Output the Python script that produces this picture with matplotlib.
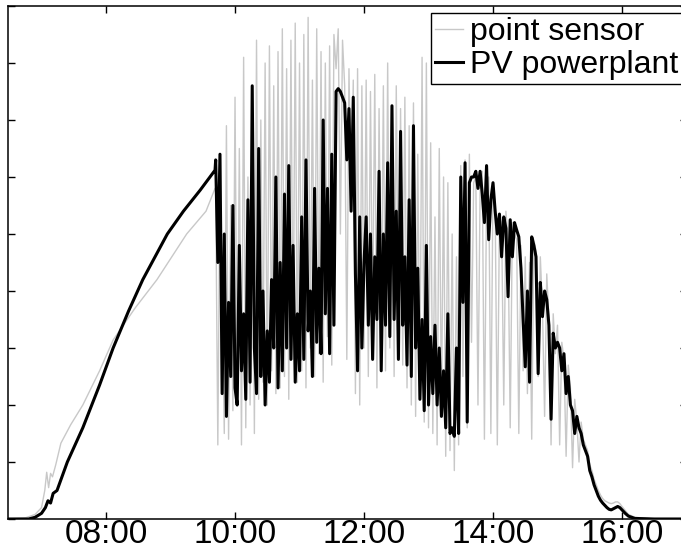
import numpy as np
import matplotlib
matplotlib.use("Agg")
import matplotlib.pyplot as plt

plt.rcParams['font.family'] = ['Liberation Sans', 'DejaVu Sans']

# smooth morning ramp (hours, value)
pv_ramp_t = [6.48, 6.8, 6.9, 7.0, 7.06, 7.1, 7.14, 7.18, 7.24, 7.4, 7.64, 7.9, 8.11, 8.35, 8.57, 8.95, 9.2, 9.46, 9.69]
pv_ramp_v = [0.0, 0.0, 0.03, 0.1, 0.2, 0.32, 0.28, 0.45, 0.5, 1.0, 1.6, 2.35, 3.0, 3.65, 4.2, 5.0, 5.4, 5.77, 6.12]
ps_ramp_t = [6.48, 6.75, 6.9, 7.0, 7.05, 7.08, 7.11, 7.14, 7.17, 7.22, 7.3, 7.45, 7.64, 7.9, 8.11, 8.45, 8.79, 9.25, 9.55, 9.69]
ps_ramp_v = [0.0, 0.02, 0.08, 0.2, 0.5, 0.82, 0.55, 0.8, 0.74, 0.95, 1.33, 1.65, 2.0, 2.6, 3.14, 3.7, 4.2, 5.0, 5.4, 5.8]

# cloudy part, one sample every 2 minutes from 09:42
pv_noisy = [
    6.3, 4.5, 6.4, 2.2, 5.0, 1.8, 3.8, 2.5, 5.5, 2.3,
    2.0, 4.8, 2.6, 3.6, 2.1, 5.6, 2.4, 7.6, 3.0, 2.2,
    6.5, 2.5, 4.0, 2.0, 3.3, 2.4, 4.2, 3.0, 6.0, 2.3,
    4.5, 2.6, 5.7, 3.0, 6.2, 2.8, 4.8, 2.4, 3.6, 2.6,
    5.3, 2.8, 6.3, 3.3, 4.0, 2.5, 5.8, 3.1, 4.4, 2.9,
    7.0, 3.6, 5.8, 2.9, 6.4, 3.4, 7.5, 7.55, 7.5, 7.4,
    7.3, 6.3, 7.2, 5.4, 7.4, 4.3, 2.6, 5.3, 3.0, 4.5,
    5.3, 3.4, 5.0, 2.8, 4.6, 3.5, 6.1, 2.6, 5.0, 3.4,
    6.25, 3.2, 7.25, 3.5, 5.4, 2.8, 6.8, 3.4, 4.6, 2.7,
    5.6, 2.5, 6.9, 3.0, 4.4, 2.1, 3.5, 1.9, 4.8, 2.0,
    3.2, 2.2, 3.4, 2.0, 3.0, 1.8, 2.6, 1.6, 3.6, 1.5,
    1.6, 1.45, 3.0, 1.5, 6.0, 3.8, 6.25, 1.7, 5.9, 6.0,
    6.0, 6.1, 5.8, 6.1, 5.7, 5.2, 6.2, 4.9, 5.6, 5.9,
    5.4, 5.0, 5.35, 4.6, 5.3, 5.1, 3.9, 5.25, 4.6, 5.2,
    5.07, 4.95, 4.4, 3.5, 2.67, 4.0, 2.4, 4.95, 4.8, 4.6,
    2.55, 4.15, 3.55, 4.0, 3.85, 3.4, 1.75, 3.26, 3.0, 3.1,
    3.0, 2.6, 2.9, 2.2, 2.5, 2.0, 1.9, 1.5, 1.8, 1.6,
    1.5, 1.3, 1.2, 1.1, 0.85, 0.74, 0.6, 0.5, 0.4, 0.33,
    0.28, 0.24, 0.2, 0.17, 0.16, 0.18, 0.2, 0.22, 0.2, 0.16,
]
ps_noisy = [
    5.8, 1.3, 6.0, 4.0, 1.5, 6.9, 1.4, 5.5, 1.9, 7.4,
    2.0, 6.5, 1.3, 8.1, 1.6, 6.0, 2.0, 7.4, 1.5, 8.4,
    2.1, 7.0, 2.4, 8.0, 2.0, 8.3, 2.6, 7.6, 2.2, 8.2,
    2.3, 8.6, 2.5, 7.9, 2.1, 8.4, 2.8, 8.7, 2.4, 8.0,
    2.6, 8.5, 2.3, 8.8, 3.0, 7.7, 2.5, 8.6, 2.9, 8.2,
    2.4, 8.0, 3.2, 8.3, 2.7, 8.5, 7.9, 8.6, 5.0, 8.4,
    7.6, 2.8, 7.9, 5.5, 7.7, 2.2, 7.9, 2.0, 7.6, 3.0,
    7.7, 2.5, 7.5, 3.4, 7.8, 2.3, 7.2, 3.0, 7.6, 2.6,
    8.0, 3.0, 7.1, 2.5, 7.6, 3.2, 7.2, 2.7, 7.4, 2.3,
    6.9, 2.0, 7.3, 1.8, 6.4, 2.4, 8.1, 1.7, 8.0, 1.6,
    6.6, 1.5, 5.3, 1.3, 6.5, 1.9, 6.0, 1.1, 5.9, 1.2,
    5.0, 0.85, 4.6, 1.3, 6.2, 2.5, 6.3, 1.6, 6.4, 3.1,
    5.9, 6.0, 2.0, 5.8, 6.1, 1.4, 5.7, 6.0, 1.5, 5.9,
    5.5, 1.3, 5.3, 5.2, 2.0, 5.4, 4.9, 1.6, 5.2, 5.0,
    4.9, 1.5, 4.8, 2.6, 4.6, 2.2, 4.5, 1.4, 4.9, 4.7,
    2.5, 4.6, 3.7, 1.8, 4.3, 3.5, 1.3, 3.6, 2.9, 3.4,
    1.3, 3.1, 2.8, 1.1, 2.7, 2.3, 0.9, 2.1, 1.7, 1.0,
    1.7, 1.4, 1.3, 1.2, 0.95, 0.85, 0.7, 0.6, 0.5, 0.42,
    0.36, 0.32, 0.3, 0.28, 0.27, 0.28, 0.3, 0.3, 0.27, 0.22,
]
noisy_start = 9.70
noisy_step = 2 / 60

# evening tail
pv_tail_t = [16.05, 16.1, 16.2, 16.5, 17.0]
pv_tail_v = [0.1, 0.05, 0.01, 0.0, 0.0]
ps_tail_t = [16.05, 16.1, 16.2, 16.5, 17.0]
ps_tail_v = [0.15, 0.08, 0.03, 0.0, 0.0]

tick_hours = [8, 10, 12, 14, 16]
tick_labels = ['08:00', '10:00', '12:00', '14:00', '16:00']

t_noisy = noisy_start + np.arange(len(pv_noisy)) * noisy_step
pv_t = np.concatenate([pv_ramp_t, t_noisy, pv_tail_t])
pv_v = np.concatenate([pv_ramp_v, pv_noisy, pv_tail_v])
ps_t = np.concatenate([ps_ramp_t, t_noisy, ps_tail_t])
ps_v = np.concatenate([ps_ramp_v, ps_noisy, ps_tail_v])

fig = plt.figure(figsize=(6.81, 5.55), dpi=100)
ax = fig.add_axes([8/681, 1 - 519/555, 678.5/681, 513/555])
ax.plot(ps_t, ps_v, color='#c8c8c8', lw=1.0, label='point sensor')
ax.plot(pv_t, pv_v, color='black', lw=2.2, label='PV powerplant')
ax.set_xlim(6.48, 17.0)
ax.set_ylim(0, 9)
ax.set_xticks(tick_hours)
ax.set_xticklabels(tick_labels)
ax.set_yticks(range(0, 10))
ax.set_yticklabels([])
ax.tick_params(direction='in', length=5, width=1, top=True, right=True,
               labelsize=24, pad=0)
for s in ax.spines.values():
    s.set_linewidth(1.1)
leg = ax.legend(loc='upper right', bbox_to_anchor=(0.993, 0.986), fontsize=23,
                frameon=True, fancybox=False, edgecolor='black', framealpha=1,
                borderaxespad=0, handlelength=0.9, handletextpad=0.2,
                borderpad=0.12, labelspacing=0.1)
leg.get_frame().set_linewidth(1.0)
fig.savefig('out.png', dpi=100)
